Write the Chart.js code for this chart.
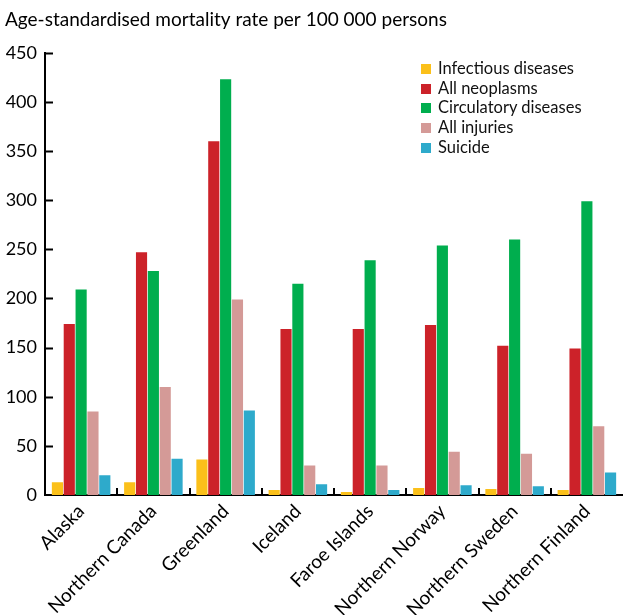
<!DOCTYPE html>
<html>
<head>
<meta charset="utf-8">
<script src="https://cdn.jsdelivr.net/npm/chart.js@4"></script>
<style>
  html, body { margin: 0; padding: 0; background: #fff; }
  #wrap { position: relative; width: 623px; height: 615px; }
  #legend { position: absolute; left: 421px; top: 59px; font-family: Lato, sans-serif; font-size: 16.5px; color: #111; }
  #legend div { height: 19.7px; line-height: 19.7px; white-space: nowrap; }
  #legend span { display: inline-block; width: 10px; height: 10px; margin-right: 7px; }
</style>
</head>
<body>
<div id="wrap">
  <canvas id="chart" width="623" height="615"></canvas>
  <div id="legend"></div>
</div>
<script>
// regions (x axis categories)
const regions = ["Alaska", "Northern Canada", "Greenland", "Iceland", "Faroe Islands", "Northern Norway", "Northern Sweden", "Northern Finland"];

// age-standardised mortality rate per 100 000 persons
const infectious = [13, 13, 36, 5, 3, 7, 6, 5];
const neoplasms = [174, 247, 360, 169, 169, 173, 152, 149];
const circulatory = [209, 228, 423, 215, 239, 254, 260, 299];
const injuries = [85, 110, 199, 30, 30, 44, 42, 70];
const suicide = [20, 37, 86, 11, 5, 10, 9, 23];

const seriesNames = ["Infectious diseases", "All neoplasms", "Circulatory diseases", "All injuries", "Suicide"];
const seriesColors = ["#fbc01a", "#cc2229", "#00ae4e", "#d49a97", "#2eaacb"];
const yTicks = [0, 50, 100, 150, 200, 250, 300, 350, 400, 450];

const seriesData = [infectious, neoplasms, circulatory, injuries, suicide];

// legend as html, top right inside the plot
const legendEl = document.getElementById("legend");
seriesNames.forEach((name, i) => {
    const row = document.createElement("div");
    row.innerHTML = '<span style="background:' + seriesColors[i] + '"></span>' + name;
    legendEl.appendChild(row);
});

// small tick marks drawn inward from the axes
const innerTicks = {
    id: "innerTicks",
    afterDraw(chart) {
        const ctx = chart.ctx;
        const x = chart.scales.x;
        const y = chart.scales.y;
        ctx.save();
        ctx.strokeStyle = "#000";
        ctx.lineWidth = 2;
        ctx.beginPath();
        yTicks.forEach(v => {
            if (v === 0) return;
            const py = Math.round(y.getPixelForValue(v)) + 0.5;
            ctx.moveTo(x.left, py);
            ctx.lineTo(x.left + 8, py);
        });
        for (let i = 1; i < regions.length; i++) {
            const px = Math.round((x.getPixelForValue(i - 1) + x.getPixelForValue(i)) / 2);
            ctx.moveTo(px, y.bottom);
            ctx.lineTo(px, y.bottom - 7);
        }
        ctx.stroke();
        ctx.restore();
    }
};

new Chart(document.getElementById("chart").getContext("2d"), {
    type: "bar",
    data: {
        labels: regions,
        datasets: seriesNames.map((name, i) => ({
            label: name,
            data: seriesData[i],
            backgroundColor: seriesColors[i],
            borderWidth: 0,
            categoryPercentage: 0.82,
            barPercentage: 0.94
        }))
    },
    options: {
        responsive: false,
        animation: false,
        layout: { padding: { left: 5, right: 0, top: 0, bottom: 0 } },
        plugins: {
            legend: { display: false },
            tooltip: { enabled: false },
            title: {
                display: true,
                text: "Age-standardised mortality rate per 100 000 persons",
                align: "start",
                color: "#000",
                font: { family: "Lato", size: 19, weight: "normal" },
                padding: { top: 8, bottom: 22 }
            }
        },
        scales: {
            x: {
                grid: { display: false, drawTicks: false },
                border: { display: true, color: "#000", width: 2 },
                afterFit: axis => { axis.height = 120; },
                ticks: {
                    color: "#000",
                    font: { family: "Lato", size: 19 },
                    maxRotation: 45,
                    minRotation: 45,
                    padding: 5
                }
            },
            y: {
                min: 0,
                max: 450,
                afterBuildTicks: axis => { axis.ticks = yTicks.map(v => ({ value: v })); },
                afterFit: axis => { axis.width = 40; },
                grid: { display: false, drawTicks: false },
                border: { display: true, color: "#000", width: 2 },
                ticks: {
                    color: "#000",
                    font: { family: "Lato", size: 18 },
                    padding: 8
                }
            }
        }
    },
    plugins: [innerTicks]
});
</script>
</body>
</html>
